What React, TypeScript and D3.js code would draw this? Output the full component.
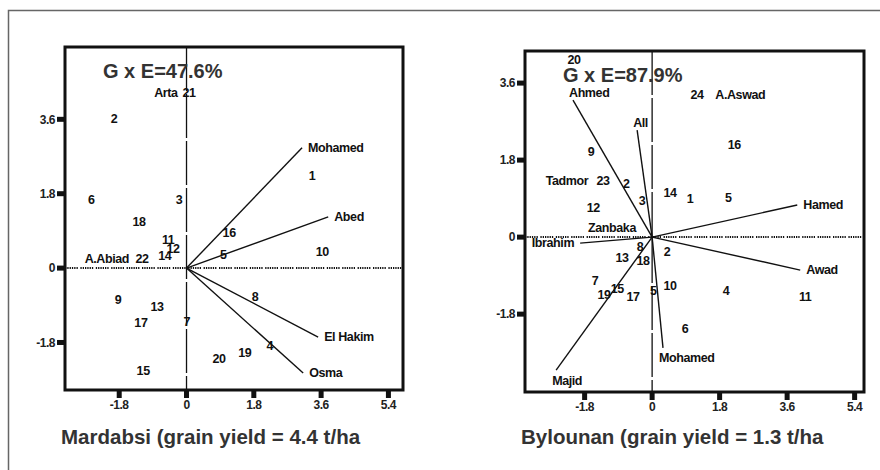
import React from 'react';
import * as d3 from 'd3';

type Pt = { id: string; x: number; y: number };

// axis ticks shared by both biplots
const xTicks = [-1.8, 0, 1.8, 3.6, 5.4];
const yTicks = [-1.8, 0, 1.8, 3.6];

// Mardabsi: genotype scores (PC1, PC2)
const mardabsiGenotypes: Pt[] = [
  { id: '1', x: 3.36, y: 2.23 }, { id: '2', x: -1.94, y: 3.61 },
  { id: '3', x: -0.2, y: 1.65 }, { id: '4', x: 2.23, y: -1.88 },
  { id: '5', x: 0.98, y: 0.32 }, { id: '6', x: -2.55, y: 1.65 },
  { id: '7', x: 0.01, y: -1.3 }, { id: '8', x: 1.83, y: -0.7 },
  { id: '9', x: -1.83, y: -0.77 }, { id: '10', x: 3.63, y: 0.39 },
  { id: '11', x: -0.49, y: 0.7 }, { id: '12', x: -0.36, y: 0.46 },
  { id: '13', x: -0.79, y: -0.94 }, { id: '14', x: -0.58, y: 0.29 },
  { id: '15', x: -1.16, y: -2.47 }, { id: '16', x: 1.14, y: 0.85 },
  { id: '17', x: -1.22, y: -1.33 }, { id: '18', x: -1.27, y: 1.12 },
  { id: '19', x: 1.56, y: -2.05 }, { id: '20', x: 0.87, y: -2.2 },
  { id: '21', x: 0.07, y: 4.24 }, { id: '22', x: -1.19, y: 0.22 },
];
// Mardabsi: environment vectors
const mardabsiVectors: Pt[] = [
  { id: 'Mohamed', x: 3.09, y: 2.91 },
  { id: 'Abed', x: 3.79, y: 1.24 },
  { id: 'El Hakim', x: 3.52, y: -1.67 },
  { id: 'Osma', x: 3.12, y: -2.54 },
];
const mardabsiSites: Pt[] = [
  { id: 'Arta', x: -0.55, y: 4.24 },
  { id: 'A.Abiad', x: -2.13, y: 0.22 },
];

// Bylounan: genotype scores
const bylounanGenotypes: Pt[] = [
  { id: '20', x: -2.08, y: 4.16 }, { id: '9', x: -1.63, y: 1.99 },
  { id: '23', x: -1.31, y: 1.31 }, { id: '2', x: -0.69, y: 1.26 },
  { id: '3', x: -0.27, y: 0.86 }, { id: '14', x: 0.48, y: 1.03 },
  { id: '1', x: 1.01, y: 0.89 }, { id: '5', x: 2.03, y: 0.93 },
  { id: '24', x: 1.2, y: 3.34 }, { id: '16', x: 2.19, y: 2.17 },
  { id: '12', x: -1.57, y: 0.68 }, { id: '8', x: -0.32, y: -0.23 },
  { id: '13', x: -0.8, y: -0.49 }, { id: '18', x: -0.24, y: -0.54 },
  { id: '7', x: -1.52, y: -1.01 }, { id: '19', x: -1.28, y: -1.35 },
  { id: '15', x: -0.93, y: -1.21 }, { id: '17', x: -0.51, y: -1.4 },
  { id: '5', x: 0.03, y: -1.24 }, { id: '2', x: 0.4, y: -0.35 },
  { id: '10', x: 0.48, y: -1.14 }, { id: '4', x: 1.97, y: -1.24 },
  { id: '11', x: 4.08, y: -1.4 }, { id: '6', x: 0.88, y: -2.13 },
];
const bylounanVectors: Pt[] = [
  { id: 'Ahmed', x: -2.11, y: 3.2 },
  { id: 'All', x: -0.4, y: 2.5 },
  { id: 'Hamed', x: 3.87, y: 0.75 },
  { id: 'Awad', x: 3.95, y: -0.77 },
  { id: 'Mohamed', x: 0.29, y: -2.59 },
  { id: 'Majid', x: -2.56, y: -3.11 },
  { id: 'Ibrahim', x: -1.92, y: -0.14 },
];
const bylounanSites: Pt[] = [
  { id: 'Tadmor', x: -2.27, y: 1.31 },
  { id: 'Zanbaka', x: -1.07, y: 0.23 },
  { id: 'A.Aswad', x: 2.35, y: 3.34 },
];

const labelFont = "'Liberation Sans Narrow', 'Liberation Sans', Arial, sans-serif";
const titleFont = "'Liberation Sans', Arial, sans-serif";

type PanelProps = {
  box: [number, number, number, number];
  xDomain: [number, number];
  yDomain: [number, number];
  gxe: string;
  caption: string;
  genotypes: Pt[];
  vectors: Pt[];
  sites: Pt[];
};

function Biplot({ box, xDomain, yDomain, gxe, caption, genotypes, vectors, sites }: PanelProps) {
  const [x0, y0, x1, y1] = box;
  const x = d3.scaleLinear().domain(xDomain).range([x0, x1]);
  const y = d3.scaleLinear().domain(yDomain).range([y1, y0]);
  const ox = x(0);
  const oy = y(0);

  // put the site name at the end of its vector
  const place = (v: Pt) => {
    const ex = x(v.x);
    const ey = y(v.y);
    const dx = ex - ox;
    const dy = ey - oy;
    if (Math.abs(dy) > 1.1 * Math.abs(dx)) {
      return { tx: ex - 4, ty: dy < 0 ? ey - 8 : ey + 10, anchor: 'start' };
    }
    return dx > 0
      ? { tx: ex + 6, ty: ey, anchor: 'start' }
      : { tx: ex - 6, ty: ey, anchor: 'end' };
  };

  return (
    <g>
      <line x1={ox} x2={ox} y1={y0} y2={y1} stroke="#111" strokeWidth={1.3} strokeDasharray="44 3" />
      <line x1={x0} x2={x1} y1={oy} y2={oy} stroke="#111" strokeWidth={2}
        strokeDasharray="1.3 1 1.3 1 1.3 1 1.3 1 1.3 1 1.3 2.6" />

      {vectors.map((v) => (
        <line key={'v' + v.id} x1={ox} y1={oy} x2={x(v.x)} y2={y(v.y)} stroke="#111" strokeWidth={1.4} />
      ))}

      <g fontFamily={labelFont} fontWeight="bold" fontSize={12.5} letterSpacing={-0.4} fill="#111">
        {vectors.map((v) => {
          const p = place(v);
          return (
            <text key={'l' + v.id} x={p.tx} y={p.ty} dy="0.35em" textAnchor={p.anchor}>{v.id}</text>
          );
        })}
        {sites.map((s) => (
          <text key={'s' + s.id} x={x(s.x)} y={y(s.y)} dy="0.35em" textAnchor="middle">{s.id}</text>
        ))}
        {genotypes.map((g, i) => (
          <text key={'g' + i} x={x(g.x)} y={y(g.y)} dy="0.35em" textAnchor="middle">{g.id}</text>
        ))}
      </g>

      <text x={x0 + 38} y={y0 + 31} fontFamily={titleFont} fontWeight="bold" fontSize={20} fill="#333">{gxe}</text>

      {/* axes */}
      <g fontFamily={labelFont} fontWeight="bold" fontSize={12} letterSpacing={-0.5} fill="#222">
        {yTicks.map((t) => (
          <g key={'yt' + t}>
            <rect x={x0 - 8} y={y(t) - 2.5} width={7} height={5} fill="#111" />
            <text x={x0 - 10} y={y(t)} dy="0.35em" textAnchor="end">{String(t)}</text>
          </g>
        ))}
        {xTicks.map((t) => (
          <g key={'xt' + t}>
            <rect x={Math.min(x(t), x1) - 2.5} y={y1 + 1} width={5} height={7} fill="#111" />
            <text x={Math.min(x(t), x1)} y={y1 + 15} dy="0.35em" textAnchor="middle">{String(t)}</text>
          </g>
        ))}
      </g>

      <rect x={x0} y={y0} width={x1 - x0} height={y1 - y0} fill="none" stroke="#111" strokeWidth={3} />

      <text x={x0 - 4} y={444} fontFamily={titleFont} fontWeight="bold" fontSize={20.5} fill="#333">{caption}</text>
    </g>
  );
}

export default function App() {
  return (
    <svg width={880} height={470} style={{ position: 'absolute', left: 0, top: 0, background: '#fff' }}>
      <rect x={8.5} y={10.5} width={900} height={500} fill="none" stroke="#666" strokeWidth={1.5} />
      <Biplot
        box={[65, 47, 403, 390]}
        xDomain={[-3.25, 5.79]}
        yDomain={[-2.95, 5.35]}
        gxe="G x E=47.6%"
        caption="Mardabsi (grain yield = 4.4 t/ha"
        genotypes={mardabsiGenotypes}
        vectors={mardabsiVectors}
        sites={mardabsiSites}
      />
      <Biplot
        box={[525, 51, 864, 392]}
        xDomain={[-3.39, 5.65]}
        yDomain={[-3.62, 4.35]}
        gxe="G x E=87.9%"
        caption="Bylounan (grain yield = 1.3 t/ha"
        genotypes={bylounanGenotypes}
        vectors={bylounanVectors}
        sites={bylounanSites}
      />
    </svg>
  );
}
